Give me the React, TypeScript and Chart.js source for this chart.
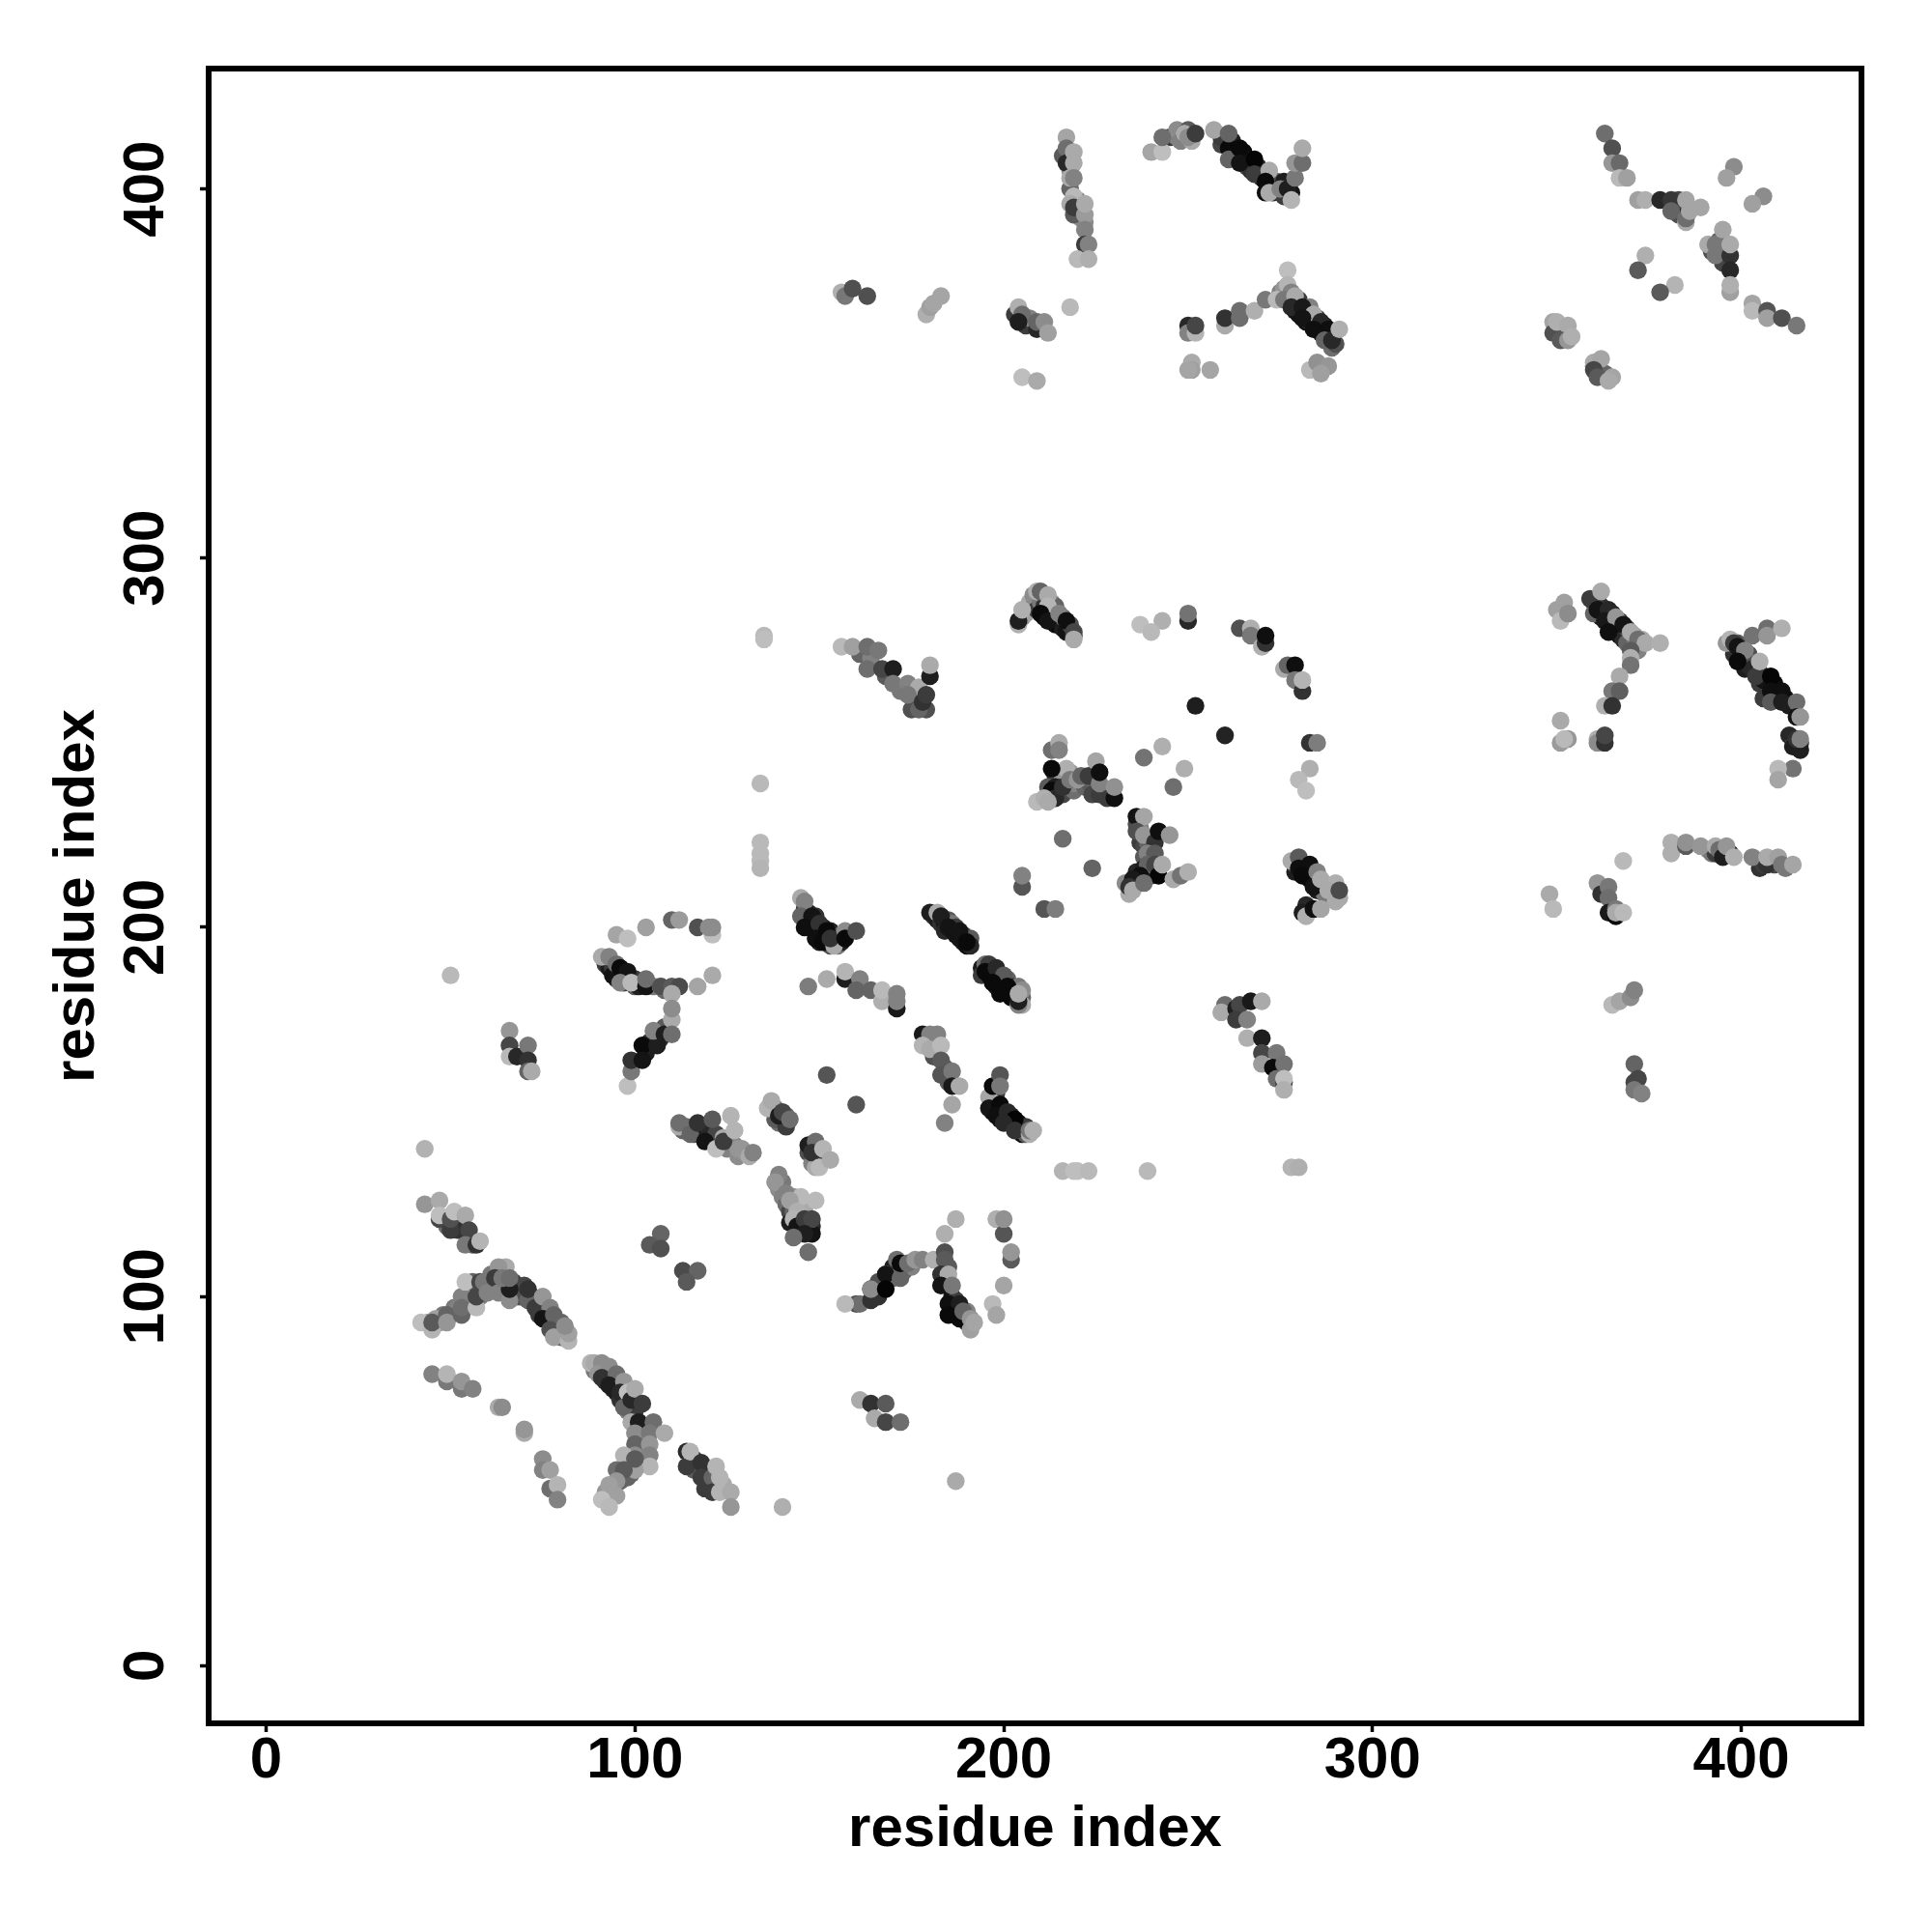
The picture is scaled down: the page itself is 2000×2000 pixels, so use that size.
import React, { useEffect, useRef } from "react";
import { Chart, registerables } from "chart.js";

Chart.register(...registerables);

type Contact = number[];

const tickValues = [0, 100, 200, 300, 400];
const axisLabel = "residue index";

// [residue i, residue j, grey level]; underlying points of the dense bands are drawn first
const underA: Contact[] = [[44,93,150],[47,93,150],[48,95,120],[50,95,130],[51,97,120],[52,97,130],[55,98,130],[55,101,110],[56,102,150],[56,104,100],[58,100,120],[60,104,150],[61,103,90],[61,106,120],[63,103,120],[65,108,170],[67,104,70],[68,100,110],[68,103,60],[69,100,80],[70,103,70],[72,100,40],[73,99,120],[74,97,30],[74,95,60],[76,95,40],[76,97,90],[77,93,20],[79,93,50],[79,91,30],[80,91,80],[80,89,100],[80,93,100],[49,119,110],[52,120,80],[52,118,50],[56,114,90]];
const underB: Contact[] = [[89,80,120],[90,81,100],[91,80,90],[92,77,40],[92,79,100],[93,78,70],[94,75,40],[94,77,40],[95,76,70],[95,74,30],[96,72,50],[97,74,50],[98,72,40],[98,69,130],[99,68,120],[100,69,60],[100,65,100],[101,62,130],[101,59,110],[102,64,150],[102,61,120],[103,58,130],[103,55,110],[101,55,110],[99,52,110],[98,51,100],[96,50,100],[94,48,100],[92,47,150],[116,56,60],[116,53,90],[119,53,50],[120,49,80],[124,49,170],[119,48,60]];
const underC: Contact[] = [[146,205,60],[147,204,40],[147,201,30],[148,200,20],[149,203,50],[150,199,15],[150,196,30],[151,200,30],[151,198,20],[152,197,25],[153,195,80],[153,199,30],[154,198,40],[155,197,20],[155,195,120],[156,196,30],[156,198,90],[92,190,60],[93,189,30],[94,189,60],[95,186,40],[97,187,30],[97,185,60],[98,186,100],[100,186,60],[100,184,90],[101,184,30],[105,184,120],[108,183,100]];
const underD: Contact[] = [[113,145,100],[114,146,110],[116,144,80],[118,145,60],[118,146,30],[119,144,30],[120,143,60],[120,146,40],[121,142,20],[122,144,70],[123,141,60],[125,142,130],[125,140,130],[127,141,130],[128,138,140],[128,140,150],[130,139,150],[138,151,120],[139,147,110],[141,149,100],[138,148,90],[141,146,60],[147,139,80],[149,138,50],[150,139,110],[151,138,60],[148,136,130],[149,135,170]];
const underE: Contact[] = [[139,129,140],[140,127,130],[140,131,120],[141,125,110],[142,123,70],[143,123,100],[143,127,150],[144,121,30],[145,120,30],[145,122,150],[146,118,70],[146,124,170],[148,119,40],[148,117,20],[142,120,30],[103,166,30],[104,169,50],[107,170,50],[108,173,90],[181,169,100],[181,165,80],[184,162,90],[185,158,90]];
const underF: Contact[] = [[197,153,30],[197,150,10],[198,155,60],[198,151,10],[199,148,20],[200,150,30],[200,149,10],[201,148,10],[202,147,20],[202,149,30],[204,147,20],[204,146,10],[205,145,30],[205,144,20],[206,146,60],[206,144,90],[185,108,90],[185,103,90],[186,100,20],[186,97,20],[187,96,15],[187,99,60],[189,94,30],[190,93,40],[190,96,130],[191,92,120],[166,104,80],[166,100,50],[170,108,30],[170,105,110],[173,107,90],[175,108,130]];
const underG: Contact[] = [[181,203,60],[182,202,30],[183,201,50],[184,201,20],[184,199,40],[185,202,90],[186,199,30],[186,201,120],[187,198,20],[187,200,60],[188,197,20],[189,198,60],[189,196,20],[190,195,15],[191,197,90],[191,195,40],[194,189,30],[194,187,60],[195,190,110],[196,187,15],[197,188,60],[198,186,20],[198,184,40],[199,187,100],[200,185,15],[200,183,30],[201,186,100],[202,184,50],[202,182,20],[203,181,15],[203,183,70],[204,184,120],[205,181,100],[205,179,170],[205,183,140]];
const underH: Contact[] = [[205,284,130],[206,285,160],[207,288,170],[208,287,130],[208,290,140],[209,286,60],[210,288,120],[211,284,20],[211,287,50],[212,285,30],[213,288,150],[213,284,15],[214,282,15],[214,287,100],[215,282,10],[216,281,30],[216,284,110],[217,280,20],[218,282,80],[219,279,40],[212,236,50],[214,241,40],[215,240,70],[216,241,150],[216,236,70],[217,238,90],[218,242,150],[219,237,110],[219,239,130],[222,238,100],[222,240,90],[224,238,90],[224,240,100],[224,236,70],[227,237,100],[228,235,60],[229,236,90],[225,242,90]];
const underI: Contact[] = [[236,228,80],[237,223,60],[237,227,130],[238,222,70],[238,219,90],[239,223,100],[240,218,80],[240,214,60],[240,222,90],[241,215,120],[236,212,70],[236,215,40],[238,216,30],[235,211,120],[233,212,140],[234,209,170],[239,215,40],[279,215,30],[279,217,70],[281,216,40],[282,214,10],[282,217,60],[283,213,10],[283,215,60],[284,213,50],[285,210,30],[286,211,170],[287,211,150],[287,209,120],[289,209,120],[290,207,170],[282,206,40],[161,274,100],[164,273,130],[168,268,90],[172,264,120],[176,261,130],[175,259,80],[179,259,80]];
const underJ: Contact[] = [[360,288,40],[361,289,30],[362,284,30],[362,287,50],[363,285,20],[365,285,40],[365,282,15],[366,281,30],[367,279,20],[367,283,60],[368,278,40],[369,281,80],[369,277,100],[371,279,150],[371,276,130],[372,275,130],[373,278,170],[360,285,100],[398,274,50],[399,277,90],[400,273,30],[401,270,30],[402,271,40],[402,274,80],[403,270,40],[405,269,60],[405,266,60],[406,267,20],[406,262,60],[409,266,10],[409,262,30],[410,262,60],[412,262,15],[413,260,30],[413,252,40],[416,250,40],[415,249,60],[391,221,150],[392,220,120],[393,220,60],[397,220,40],[405,218,100],[405,216,50],[406,217,60],[409,217,70],[412,216,120]];
const underK: Contact[] = [[245,414,60],[247,414,130],[247,416,140],[248,413,130],[250,416,90],[251,413,170],[259,412,70],[259,414,60],[262,409,20],[262,413,30],[263,408,30],[265,410,10],[265,407,20],[266,408,20],[266,406,80],[267,405,50],[269,406,40],[270,403,40],[270,405,30],[273,399,40],[274,402,80],[276,402,30],[276,398,60],[276,400,60],[278,399,20],[275,372,130],[276,373,150],[277,371,140],[278,370,90],[279,369,60],[279,367,30],[280,370,60],[280,366,20],[282,366,40],[282,364,20],[283,368,130],[283,364,40],[285,365,60],[285,362,20],[286,361,20],[287,363,30],[288,360,30],[289,361,30],[289,357,110],[290,358,80]];
const underL: Contact[] = [[216,409,90],[218,405,140],[218,410,100],[218,400,100],[220,394,130],[220,397,130],[221,392,150],[222,391,140],[219,393,90],[203,366,60],[206,363,60],[207,365,130],[382,396,90],[383,393,80],[384,394,80],[384,396,40],[383,397,70],[392,383,80],[394,386,100],[394,382,50],[395,380,70],[396,383,120],[350,362,90],[351,361,110],[352,360,90],[360,352,120],[362,350,60],[363,350,100]];

const lowerLeftA: Contact[] = [[43,140,178],[43,125,150],[47,126,170],[47,121,70],[47,122,190],[50,118,60],[50,121,80],[51,123,190],[54,122,170],[55,118,70],[54,114,120],[57,114,50],[58,115,180]];
const arcA: Contact[] = [[42,93,190],[45,91,180],[46,94,160],[45,93,90],[49,95,100],[49,93,150],[53,95,100],[53,100,130],[53,97,110],[57,97,185],[57,100,70],[54,104,190],[58,104,70],[59,104,120],[60,101,130],[63,108,150],[62,105,60],[63,101,130],[66,99,140],[66,102,30],[64,105,120],[66,105,110],[71,99,100],[71,102,50],[73,97,60],[75,100,150],[77,97,130],[75,94,20],[78,95,100],[77,91,80],[78,89,160],[82,88,180],[82,90,160],[81,92,140]];
const tailA: Contact[] = [[45,79,130],[49,77,120],[49,79,180],[53,75,120],[53,77,150],[56,75,130],[63,70,170],[64,70,140],[70,63,170],[70,64,150],[75,56,140],[75,53,130],[77,53,160],[77,48,110],[79,49,180],[79,45,130]];
const diagonalA: Contact[] = [[88,82,180],[89,82,170],[91,82,140],[90,79,150],[93,81,140],[91,78,50],[95,79,110],[93,76,30],[97,77,150],[96,74,40],[98,74,190],[97,70,100],[99,72,40],[100,75,170],[102,71,60],[99,66,170],[101,66,30],[105,66,110],[100,63,140],[104,63,120],[108,63,170],[100,60,100],[104,60,150],[100,57,140],[104,57,130],[104,54,180],[100,53,160],[97,57,180],[100,56,90],[95,53,110],[97,53,90],[95,50,150],[93,49,160],[93,45,160],[95,46,160],[91,45,190],[93,43,185]];
const diagonalB: Contact[] = [[114,58,40],[114,54,60],[115,58,180],[118,55,50],[118,51,60],[121,51,100],[122,54,180],[121,47,60],[123,51,180],[123,47,180],[126,47,170],[126,43,150],[140,43,175],[187,50,170]];
const smallA: Contact[] = [[107,117,100],[104,114,90],[107,113,80],[113,107,75],[117,107,100],[114,104,90],[161,72,170],[164,71,50],[168,71,90],[165,67,170],[168,66,70],[172,66,110]];
const middleA: Contact[] = [[112,146,170],[112,147,110],[115,144,100],[117,147,50],[121,148,90],[119,142,20],[122,140,190],[124,143,170],[124,142,60],[126,149,180],[127,145,180],[129,140,150],[131,138,170],[132,139,130]];
const middleB: Contact[] = [[136,151,180],[137,153,170],[139,149,30],[140,150,70],[142,148,110],[147,141,30],[149,142,110],[148,139,50],[151,140,180],[150,135,185],[153,137,170]];
const middleC: Contact[] = [[139,133,130],[138,131,150],[141,128,130],[145,127,185],[149,126,185],[142,126,160],[144,123,175],[143,121,180],[144,119,20],[146,121,60],[148,121,70],[146,117,30],[143,116,110],[147,112,110]];
const leftB: Contact[] = [[50,187,185],[66,172,150],[66,168,70],[66,165,185],[68,165,40],[71,168,120],[71,164,50],[71,161,100],[72,161,170]];
const ringA: Contact[] = [[91,192,170],[93,192,130],[94,187,20],[95,190,110],[96,189,10],[98,188,20],[96,185,130],[99,185,185],[103,184,20],[103,186,110],[107,184,170],[107,184,80],[110,184,90],[112,184,75],[117,184,165],[121,187,170],[95,198,165],[98,197,190],[103,200,160],[110,202,100],[112,202,155],[117,200,80],[121,198,190],[120,200,140],[121,200,140],[110,182,170]];
const ringB: Contact[] = [[98,157,190],[99,161,120],[99,164,50],[102,168,10],[102,164,20],[106,168,30],[105,172,130],[108,171,30],[110,175,170],[110,171,110],[110,178,140]];
const diagonalC: Contact[] = [[145,208,170],[146,207,130],[145,203,100],[148,203,20],[146,200,15],[150,201,50],[149,197,15],[152,199,10],[151,196,10],[154,195,170],[153,197,50],[157,199,140],[157,197,10],[160,199,80]];
const lightColumn: Contact[] = [[134,239,185],[134,223,185],[134,220,185],[134,218,185],[134,216,180],[135,279,185],[135,278,190],[216,134,180],[219,134,190],[220,134,190],[223,134,185],[239,134,185],[278,135,180],[280,135,175]];
const rowC: Contact[] = [[147,184,125],[152,186,170],[157,186,30],[157,188,180],[161,186,130],[160,183,100],[164,183,100],[167,180,175],[167,183,185],[171,178,25],[171,182,130],[171,180,130],[152,160,85],[160,152,85]];
const middleD: Contact[] = [[178,171,25],[180,171,130],[182,171,130],[178,168,180],[180,167,170],[183,168,185],[183,164,90],[183,160,85],[186,161,120],[186,157,25],[188,157,170],[186,152,165],[184,147,130]];
const diagonalD: Contact[] = [[196,154,165],[197,157,10],[199,160,85],[199,157,120],[196,151,20],[199,152,10],[198,149,15],[201,150,40],[203,148,5],[200,147,40],[203,145,50],[207,144,175],[207,145,120],[208,145,175]];
const triangleA: Contact[] = [[160,98,80],[161,98,110],[157,98,185],[164,99,50],[164,102,20],[164,102,140],[168,106,175],[168,106,20],[168,102,5],[172,105,100],[171,110,110],[172,109,10],[174,109,110],[176,110,150],[178,110,130],[181,110,175],[184,112,80],[184,110,90],[183,106,50],[185,106,170],[183,103,20],[186,103,120],[185,98,15],[188,98,30],[185,95,10],[188,94,10],[189,96,100],[191,94,150],[191,91,160],[192,93,165],[184,117,175],[187,121,175],[198,121,175],[200,117,85],[200,121,145],[202,110,90],[202,112,150],[200,103,165],[197,98,185],[198,95,165]];
const clusterE: Contact[] = [[204,282,175],[204,283,30],[205,286,175],[209,291,175],[210,291,100],[212,290,170],[212,287,180],[210,285,10],[212,283,20],[215,285,130],[217,283,15],[219,280,70],[219,278,170]];
const clusterF: Contact[] = [[237,282,190],[243,283,175],[240,280,185],[250,283,40],[250,285,115],[264,281,80],[267,281,175],[267,279,120],[270,276,175],[271,277,50],[271,279,15],[276,270,170],[277,271,100],[279,271,15],[279,267,120],[281,264,50],[281,267,180],[252,260,30],[260,252,35],[283,250,50],[285,250,125],[283,243,175],[280,240,185],[282,237,190],[243,249,175],[238,246,115],[249,243,175],[246,238,110]];
const clusterG: Contact[] = [[213,248,110],[215,250,170],[215,248,130],[217,243,175],[213,243,10],[212,238,90],[214,238,30],[213,237,10],[214,235,40],[216,238,50],[209,234,185],[211,235,175],[212,234,170],[218,240,120],[220,240,150],[221,241,100],[223,241,60],[225,245,165],[226,236,60],[226,239,130],[226,242,15],[230,235,15],[230,238,145],[216,224,110],[224,216,100],[205,211,85],[205,214,130],[211,205,85],[214,205,125]];
const clusterH: Contact[] = [[236,230,20],[238,230,165],[236,226,80],[238,225,150],[241,223,50],[242,226,15],[245,225,150],[239,220,130],[241,220,90],[239,217,100],[241,217,70],[242,214,5],[243,217,170],[237,214,15],[235,213,25],[234,211,50],[235,210,170],[238,212,110],[246,213,170],[248,214,115],[250,215,175]];
const clusterI: Contact[] = [[278,218,170],[280,219,90],[280,216,15],[283,217,15],[281,214,10],[285,215,130],[284,211,20],[286,213,170],[290,212,175],[288,210,170],[291,208,170],[291,210,75],[281,204,30],[282,203,175],[284,205,15],[286,205,165]];
const diagonalE: Contact[] = [[180,204,30],[182,204,170],[183,203,30],[185,200,20],[188,199,20],[190,196,10],[196,190,60],[195,188,10],[198,189,40],[200,187,90],[197,185,10],[201,184,10],[199,182,10],[202,181,10],[204,179,130],[204,180,30],[204,182,170]];
const upperMidA: Contact[] = [[156,276,185],[159,276,160],[163,276,110],[166,275,120],[163,270,110],[167,270,70],[170,270,30],[170,266,120],[174,266,130],[177,265,170],[174,263,120],[177,259,100],[178,261,50],[179,263,60],[180,268,30],[180,271,170]];
const rightA: Contact[] = [[352,288,160],[350,286,160],[351,283,185],[353,285,140],[359,289,60],[362,291,170],[361,286,20],[364,286,40],[363,283,25],[366,284,150],[368,282,20],[364,280,15],[370,280,170],[372,278,110],[374,277,170],[370,275,90],[370,273,175],[378,277,175],[370,271,115],[367,268,170],[365,264,120],[367,264,95],[363,260,175],[365,260,50],[351,256,170],[351,250,155],[353,251,150],[352,251,185],[361,251,175],[361,250,140],[363,250,50],[363,252,70]];
const rightB: Contact[] = [[396,277,150],[397,278,180],[398,277,60],[399,276,20],[403,279,115],[407,281,110],[407,279,150],[411,281,175],[401,275,130],[399,272,10],[404,268,60],[405,272,175],[408,268,5],[408,264,15],[411,264,15],[408,261,90],[411,261,30],[415,261,110],[415,257,20],[416,257,150],[414,249,170],[414,249,30],[416,248,30],[415,251,50],[416,251,130],[414,243,115],[410,243,185],[410,240,165]];
const rightC: Contact[] = [[381,220,175],[381,223,175],[385,222,90],[385,223,145],[389,222,150],[393,222,170],[394,221,110],[395,219,30],[396,222,150],[398,219,175],[403,219,130],[407,217,50],[407,219,170],[410,219,160],[411,217,120],[414,217,165],[368,218,185],[348,209,170],[349,205,185],[361,212,150],[362,209,50],[364,211,120],[364,208,110],[364,204,25],[366,203,10],[366,205,120],[366,204,170],[368,204,185],[365,179,185],[367,180,165],[370,181,140],[371,183,130],[371,163,100],[371,158,70],[372,159,70],[371,156,120],[373,155,130]];
const rightD: Contact[] = [[260,179,110],[259,177,170],[263,178,30],[264,179,70],[267,180,25],[270,180,170],[263,175,60],[266,175,130],[266,170,175],[270,170,30],[270,166,70],[270,163,155],[274,166,120],[273,162,10],[276,163,115],[274,159,110],[276,158,60],[276,159,190],[276,156,175]];
const topA: Contact[] = [[217,414,165],[217,411,110],[217,407,40],[219,410,170],[219,407,170],[218,403,170],[219,403,130],[219,398,185],[218,396,170],[219,395,60],[222,393,155],[222,396,170],[222,389,130],[222,385,60],[223,385,130],[220,381,185],[223,381,175],[204,368,175],[205,366,110],[204,364,30],[209,362,40],[209,364,100],[211,364,140],[212,361,160],[218,368,185],[205,349,190],[209,348,170],[156,372,175],[157,371,120],[159,373,80],[163,371,80],[179,366,175],[180,368,160],[181,369,165],[183,371,165]];
const topB: Contact[] = [[240,410,165],[243,410,190],[243,414,110],[249,415,25],[249,415,170],[250,414,140],[252,415,60],[257,416,165],[261,411,10],[261,415,100],[261,408,100],[264,411,10],[264,407,20],[268,408,5],[268,404,60],[272,405,170],[271,402,10],[271,399,15],[272,399,170],[275,400,130],[277,400,30],[278,397,180],[279,403,120],[279,407,150],[281,407,110],[281,411,170]];
const topC: Contact[] = [[250,363,40],[250,361,130],[252,361,180],[252,363,70],[260,363,170],[260,365,50],[264,367,110],[264,365,110],[268,367,175],[271,370,120],[274,370,185],[277,378,190],[277,374,180],[278,372,130],[276,370,120],[279,371,170],[278,368,40],[281,368,25],[284,366,170],[281,365,20],[286,364,40],[284,362,15],[288,362,15],[287,359,100],[289,359,40],[291,362,175],[251,353,170],[251,351,160],[250,351,165],[256,351,165],[283,351,185],[285,353,145],[288,352,150],[286,350,160]];
const topD: Contact[] = [[363,415,110],[365,411,80],[365,407,150],[367,407,105],[367,403,185],[369,403,160],[372,397,160],[374,397,175],[378,397,40],[381,397,55],[381,394,100],[385,391,170],[385,392,110],[385,397,165],[386,394,165],[389,395,165],[391,385,170],[393,385,120],[393,382,120],[395,389,165],[397,382,50],[397,385,170],[397,378,40],[397,372,160],[397,374,175],[398,406,140],[396,403,160],[406,398,140],[403,396,160],[374,382,175],[372,378,90],[382,374,180],[378,372,90],[403,369,165],[403,367,185],[407,367,85],[407,365,160],[411,365,80],[415,363,120],[349,364,165],[349,361,80],[350,364,175],[353,363,170],[351,359,90],[353,359,150],[354,360,175],[360,353,170],[362,354,165],[360,351,70],[361,349,90],[365,349,165],[364,348,170]];

const contacts: Contact[] = [
  underA, underB, underC, underD, underE, underF, underG, underH, underI, underJ, underK, underL,
  lowerLeftA, arcA, tailA, diagonalA, diagonalB, smallA, middleA, middleB, middleC,
  leftB, ringA, ringB, diagonalC, lightColumn, rowC, middleD, diagonalD, triangleA,
  clusterE, clusterF, clusterG, clusterH, clusterI, diagonalE, upperMidA,
  rightA, rightB, rightC, rightD, topA, topB, topC, topD,
].flat();

const framePlugin = {
  id: "frame",
  afterDraw(chart: any) {
    const { ctx, chartArea: a } = chart;
    ctx.save();
    ctx.strokeStyle = "#000";
    ctx.lineWidth = 6;
    ctx.strokeRect(a.left, a.top, a.right - a.left, a.bottom - a.top);
    ctx.restore();
  },
};

const font = { family: "'Liberation Sans'", weight: "bold" as const, size: 60 };

export default function App() {
  const ref = useRef<HTMLCanvasElement>(null);
  useEffect(() => {
    const chart = new Chart(ref.current!, {
      type: "scatter",
      plugins: [framePlugin],
      data: {
        datasets: [
          {
            data: contacts.map((c) => ({ x: c[0], y: c[1] })),
            backgroundColor: contacts.map((c) => `rgb(${c[2]},${c[2]},${c[2]})`),
            pointRadius: 9.2,
            pointBorderWidth: 0,
          },
        ],
      },
      options: {
        responsive: false,
        animation: false,
        events: [],
        layout: { padding: { top: 71, right: 73, left: 0, bottom: 0 } },
        plugins: { legend: { display: false }, tooltip: { enabled: false } },
        scales: {
          x: {
            type: "linear",
            min: -15.6,
            max: 432.6,
            afterBuildTicks: (s: any) => { s.ticks = tickValues.map((value) => ({ value })); },
            afterFit: (s: any) => { s.height = 216; },
            border: { display: false },
            grid: { drawOnChartArea: false, drawTicks: true, tickLength: 9, tickWidth: 3.5, color: "#000" },
            ticks: { color: "#000", font, padding: -6, maxRotation: 0, minRotation: 0, autoSkip: false },
            title: { display: true, text: axisLabel, color: "#000", font, padding: { top: 4, bottom: 70 } },
          },
          y: {
            type: "linear",
            min: -15.6,
            max: 432.6,
            afterBuildTicks: (s: any) => { s.ticks = tickValues.map((value) => ({ value })); },
            afterFit: (s: any) => { s.width = 216; },
            border: { display: false },
            grid: { drawOnChartArea: false, drawTicks: true, tickLength: 9, tickWidth: 3.5, color: "#000" },
            ticks: { color: "#000", font, padding: 4, minRotation: 90, maxRotation: 90, autoSkip: false, crossAlign: "center" },
            title: { display: true, text: axisLabel, color: "#000", font, padding: { top: 44, bottom: 0 } },
          },
        },
      },
    } as any);
    return () => chart.destroy();
  }, []);
  return (
    <div style={{ position: "absolute", left: 0, top: 0, width: 2000, height: 2000, background: "#fff" }}>
      <canvas ref={ref} width={2000} height={2000} style={{ display: "block" }} />
    </div>
  );
}
